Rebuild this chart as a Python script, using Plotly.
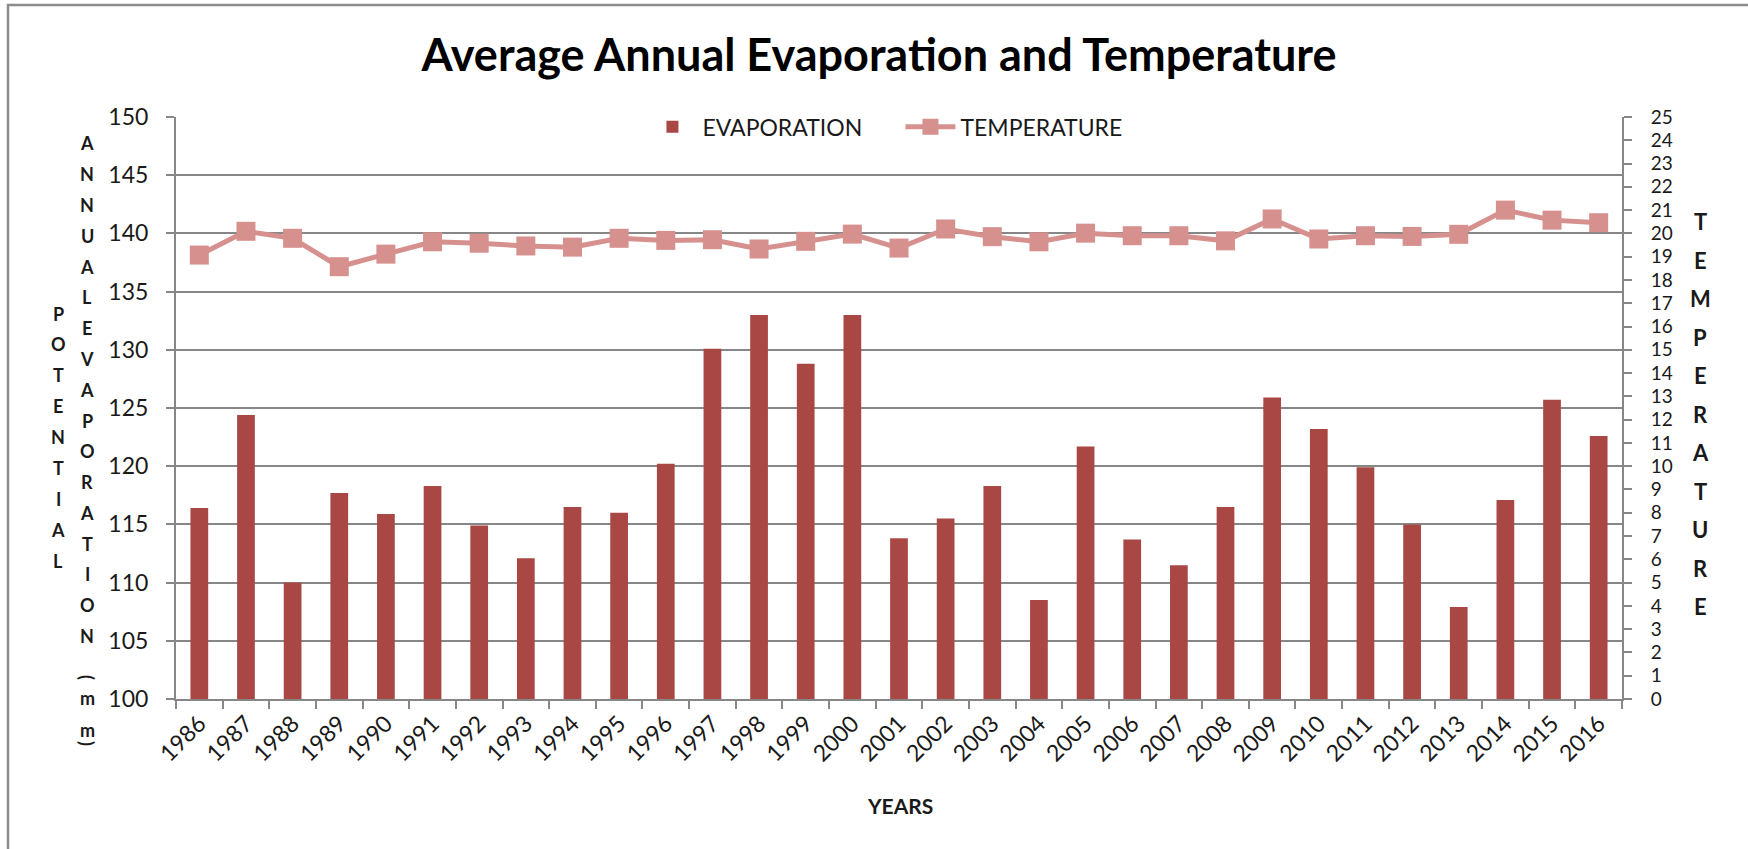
import plotly.graph_objects as go

# ---- data -------------------------------------------------------------
years = ["1986", "1987", "1988", "1989", "1990", "1991", "1992", "1993",
         "1994", "1995", "1996", "1997", "1998", "1999", "2000", "2001",
         "2002", "2003", "2004", "2005", "2006", "2007", "2008", "2009",
         "2010", "2011", "2012", "2013", "2014", "2015", "2016"]

evaporation = [116.4, 124.4, 110.0, 117.7, 115.9, 118.3, 114.9, 112.1,
               116.5, 116.0, 120.2, 130.1, 133.0, 128.8, 133.0, 113.8,
               115.5, 118.3, 108.5, 121.7, 113.7, 111.5, 116.5, 125.9,
               123.2, 119.9, 115.0, 107.9, 117.1, 125.7, 122.6]

temperature = [19.07, 20.09, 19.79, 18.57, 19.11, 19.64, 19.58, 19.46,
               19.41, 19.79, 19.70, 19.73, 19.33, 19.66, 19.97, 19.37,
               20.19, 19.86, 19.64, 20.01, 19.90, 19.90, 19.68, 20.62,
               19.76, 19.90, 19.87, 19.96, 21.00, 20.57, 20.46]

evap_ticks = [100, 105, 110, 115, 120, 125, 130, 135, 140, 145, 150]
temp_ticks = list(range(0, 26))

title_text = "Average Annual Evaporation and Temperature"
left_title_col1 = "POTENTIAL"
left_title_col2 = "ANNUALEVAPORATION"
right_title = "TEMPERATURE"

# ---- styling ----------------------------------------------------------
FONT = "Lato, 'Open Sans', sans-serif"
BAR_COLOR = "#A94745"
LINE_COLOR = "#D6908E"
GRID = "#878787"
TEXT = "#1a1a1a"

W, H = 1748, 849
ML, MR, MT, MB = 176, 126, 117, 150
PW, PH = W - ML - MR, H - MT - MB


def px_x(px):
    return (px - ML) / PW


def px_y(py):
    return (H - MB - py) / PH


def letter(ch, px, py, size, angle=0):
    return dict(x=px_x(px), y=px_y(py), text=f"<b>{ch}</b>",
                showarrow=False, textangle=angle,
                xref="paper", yref="paper",
                xanchor="center", yanchor="middle",
                font=dict(family=FONT, size=size, color=TEXT))


fig = go.Figure()

fig.add_trace(go.Bar(
    x=years, y=evaporation, name="EVAPORATION",
    marker=dict(color=BAR_COLOR, line=dict(width=0)),
    yaxis="y",
))

fig.add_trace(go.Scatter(
    x=years, y=temperature, name="TEMPERATURE",
    mode="lines+markers",
    line=dict(color=LINE_COLOR, width=5),
    marker=dict(symbol="square", size=19, color=LINE_COLOR),
    yaxis="y2",
))

# stacked (vertical-letter) axis titles
annotations = []
col1_top, col1_step = 313.5, 30.9
for i, ch in enumerate(left_title_col1):
    annotations.append(letter(ch, 58, col1_top + i * col1_step, 18))
col2_top, col2_step = 143.5, 30.78
for i, ch in enumerate(left_title_col2):
    annotations.append(letter(ch, 87, col2_top + i * col2_step, 18))
# "(mm)" tail of the evaporation title, parentheses turned sideways
for ch, py, ang in [("(", 677, 90), ("m", 698, 0), ("m", 730, 0), (")", 743, 90)]:
    annotations.append(letter(ch, 87, py, 18, ang))
right_top, right_step = 221.7, 38.5
for i, ch in enumerate(right_title):
    annotations.append(letter(ch, 1700, right_top + i * right_step, 22))
# x-axis title
annotations.append(letter("YEARS", 900, 805, 21))

fig.update_layout(
    width=W, height=H,
    margin=dict(l=ML, r=MR, t=MT, b=MB),
    paper_bgcolor="white", plot_bgcolor="white",
    font=dict(family=FONT, color=TEXT),
    title=dict(text=f"<b>{title_text}</b>", x=879 / W, xanchor="center",
               y=1 - 55 / H, yanchor="middle", yref="container",
               font=dict(family=FONT, size=45, color="#000000")),
    bargap=0.62,
    showlegend=True,
    legend=dict(orientation="h", x=0.501, xanchor="center", y=1.02,
                yanchor="top", font=dict(family=FONT, size=23, color=TEXT),
                bgcolor="rgba(0,0,0,0)", itemwidth=50, traceorder="normal",
                entrywidth=193, entrywidthmode="pixels"),
    xaxis=dict(type="category", range=[-0.5, len(years) - 0.5],
               tickangle=-45, showgrid=False,
               showline=True, linecolor=GRID, linewidth=2,
               ticks="outside", tickson="boundaries", ticklen=8,
               tickcolor=GRID, tickwidth=2,
               tickfont=dict(family=FONT, size=23, color=TEXT),
               automargin=False),
    yaxis=dict(range=[100, 150], tickvals=evap_ticks, showgrid=True,
               gridcolor=GRID, gridwidth=2, showline=True, linecolor=GRID,
               linewidth=2, ticks="outside", ticklen=8, tickcolor=GRID,
               tickwidth=2, ticklabelstandoff=13, zeroline=False,
               tickfont=dict(family=FONT, size=23, color=TEXT),
               automargin=False),
    yaxis2=dict(range=[0, 25], tickvals=temp_ticks, overlaying="y",
                side="right", showgrid=False, showline=True, linecolor=GRID,
                linewidth=2, ticks="outside", ticklen=8, tickcolor=GRID,
                tickwidth=2, ticklabelstandoff=15, zeroline=False,
                tickfont=dict(family=FONT, size=19, color=TEXT),
                automargin=False),
    annotations=annotations,
    shapes=[dict(type="rect", xref="paper", yref="paper",
                 x0=px_x(8), x1=px_x(1765), y0=px_y(865), y1=px_y(5),
                 line=dict(color="#8c8c8c", width=2.5), layer="below")],
)

fig.write_html("out.html")
